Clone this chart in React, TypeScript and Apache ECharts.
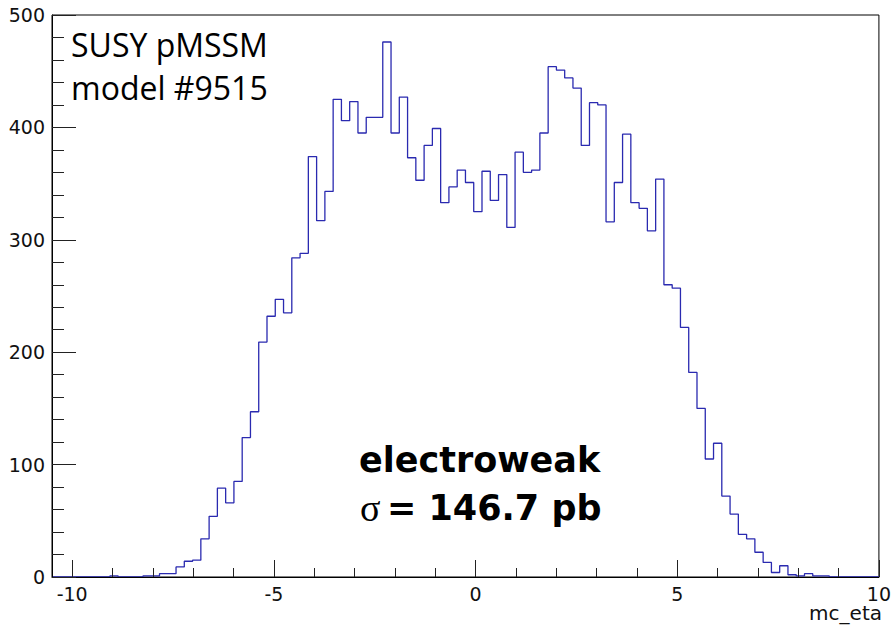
import { useEffect, useRef } from "react";
import * as echarts from "echarts";

// Histogram definition (ROOT TH1: 100 bins from -10.5 to 10)
const X_MIN = -10.5;
const X_MAX = 10;
const BIN_WIDTH = 0.205;

// Bin contents, bin 0 .. bin 99
const counts = [
  0, 0, 0, 0, 0, 0, 0, 1, 0, 0,
  0, 1, 1, 3, 3, 9, 14, 15, 34, 54,
  79, 66, 85, 124, 147, 209, 232, 247, 235, 284,
  288, 374, 317, 343, 425, 406, 423, 395, 409, 409,
  476, 395, 427, 373, 353, 384, 399, 333, 347, 362,
  351, 325, 361, 335, 358, 311, 378, 360, 362, 395,
  454, 451, 444, 435, 384, 422, 420, 316, 351, 394,
  333, 328, 308, 354, 260, 257, 222, 182, 150, 105,
  119, 72, 56, 38, 34, 22, 13, 4, 10, 2,
  1, 3, 1, 1, 0, 0, 0, 0, 0, 0,
];

const xMajorTicks = [-10, -5, 0, 5, 10];
const xMinorTicks = [-10, -9, -8, -7, -6, -5, -4, -3, -2, -1, 0, 1, 2, 3, 4, 5, 6, 7, 8, 9, 10];
const yMin = 0;
const yMax = 500;
const yStep = 100;

const xTitle = "mc_eta";
const modelLines = ["SUSY pMSSM", "model #9515"];
const processLabel = "electroweak";
const sigmaSymbol = "σ";
const xsecLabel = "= 146.7 pb";

const AXIS_FONT = "'DejaVu Sans', sans-serif";

export default function App() {
  const ref = useRef<HTMLDivElement>(null);

  useEffect(() => {
    if (!ref.current) return;
    const chart = echarts.init(ref.current, null, { renderer: "svg" });

    const stepData: number[][] = counts.map((c, i) => [X_MIN + i * BIN_WIDTH, c]);
    stepData.push([X_MAX, counts[counts.length - 1]]);

    chart.setOption({
      animation: false,
      backgroundColor: "#ffffff",
      grid: {
        left: 52,
        right: 11,
        top: 15,
        bottom: 52,
        show: true,
        borderColor: "#000000",
        borderWidth: 1,
        backgroundColor: "transparent",
      },
      xAxis: [
        {
          type: "value",
          min: X_MIN,
          max: X_MAX,
          position: "bottom",
          z: 5,
          axisLine: { show: true, onZero: false, lineStyle: { color: "#000", width: 1 } },
          axisTick: {
            show: true,
            inside: true,
            length: 17,
            customValues: xMajorTicks,
            lineStyle: { color: "#222", width: 1 },
          },
          axisLabel: {
            show: true,
            customValues: xMajorTicks,
            fontFamily: AXIS_FONT,
            fontSize: 19,
            color: "#111",
            margin: 7,
          },
          splitLine: { show: false },
        },
        {
          type: "value",
          min: X_MIN,
          max: X_MAX,
          position: "bottom",
          z: 5,
          axisLine: { show: false, onZero: false },
          axisTick: {
            show: true,
            inside: true,
            length: 9,
            customValues: xMinorTicks,
            lineStyle: { color: "#222", width: 1 },
          },
          axisLabel: { show: false },
          splitLine: { show: false },
        },
      ],
      yAxis: {
        type: "value",
        min: yMin,
        max: yMax,
        interval: yStep,
        z: 5,
        axisLine: { show: true, onZero: false, lineStyle: { color: "#000", width: 1 } },
        axisTick: { show: true, inside: true, length: 24, lineStyle: { color: "#222", width: 1 } },
        minorTick: { show: true, splitNumber: 5, length: 12, lineStyle: { color: "#222", width: 1 } },
        axisLabel: { fontFamily: AXIS_FONT, fontSize: 19, color: "#111", margin: 7 },
        splitLine: { show: false },
        minorSplitLine: { show: false },
      },
      series: [
        {
          type: "line",
          xAxisIndex: 0,
          yAxisIndex: 0,
          step: "end",
          data: stepData,
          symbol: "none",
          z: 2,
          lineStyle: { color: "#2a2ab0", width: 1.3 },
        },
      ],
      graphic: [
        {
          type: "text",
          x: 71,
          y: 44,
          style: {
            text: modelLines[0],
            fontFamily: "'Open Sans', sans-serif",
            fontSize: 32,
            fill: "#000",
            align: "left",
            verticalAlign: "middle",
          },
        },
        {
          type: "text",
          x: 71,
          y: 87,
          style: {
            text: modelLines[1],
            fontFamily: "'Open Sans', sans-serif",
            fontSize: 32,
            fill: "#000",
            align: "left",
            verticalAlign: "middle",
          },
        },
        {
          type: "text",
          x: 359,
          y: 460,
          style: {
            text: processLabel,
            fontFamily: "'DejaVu Sans', sans-serif",
            fontWeight: "bold",
            fontSize: 35,
            fill: "#000",
            align: "left",
            verticalAlign: "middle",
          },
        },
        {
          type: "text",
          x: 360,
          y: 508,
          style: {
            text: sigmaSymbol,
            fontFamily: "'Liberation Serif', 'DejaVu Serif', serif",
            fontSize: 38,
            fill: "#000",
            align: "left",
            verticalAlign: "middle",
          },
        },
        {
          type: "text",
          x: 387,
          y: 508,
          style: {
            text: xsecLabel,
            fontFamily: "'DejaVu Sans', sans-serif",
            fontWeight: "bold",
            fontSize: 35,
            fill: "#000",
            align: "left",
            verticalAlign: "middle",
          },
        },
        {
          type: "text",
          x: 882,
          y: 613,
          style: {
            text: xTitle,
            fontFamily: AXIS_FONT,
            fontSize: 20,
            fill: "#111",
            align: "right",
            verticalAlign: "middle",
          },
        },
      ],
    });

    return () => chart.dispose();
  }, []);

  return (
    <div
      ref={ref}
      style={{ position: "fixed", left: 0, top: 0, width: 894, height: 629, background: "#fff" }}
    />
  );
}
